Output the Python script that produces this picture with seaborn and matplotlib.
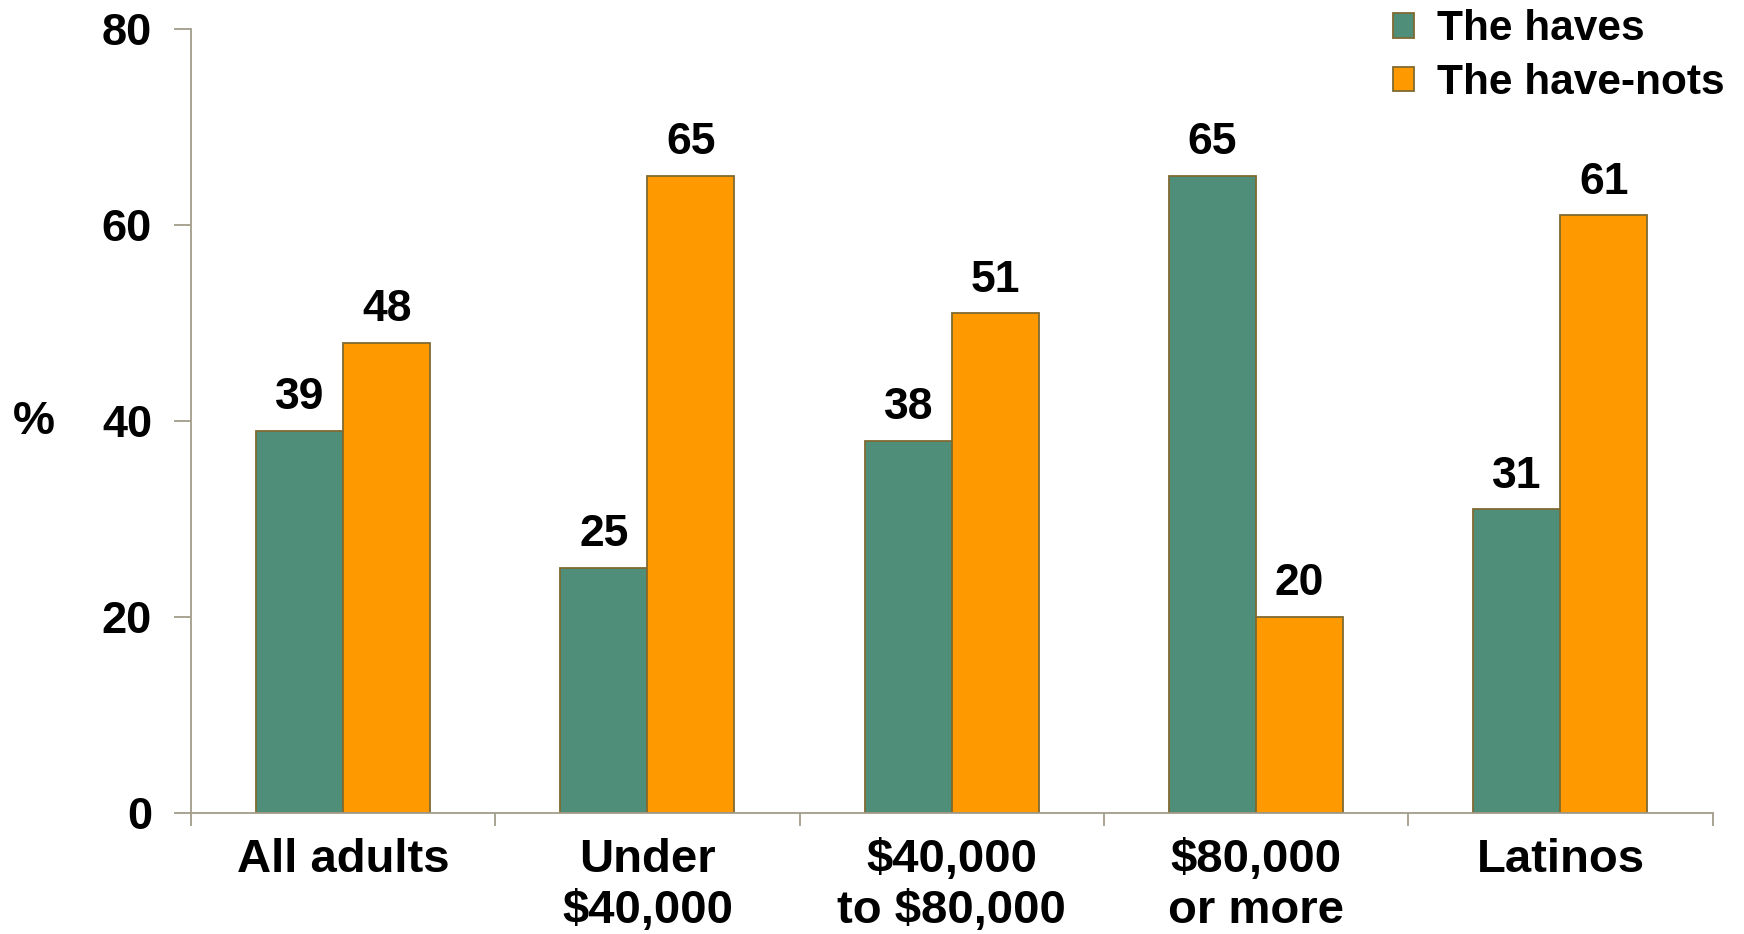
import numpy as np
import pandas as pd
import seaborn as sns
import matplotlib.pyplot as plt

groups = ["All adults", "Under\n$40,000", "$40,000\nto $80,000", "$80,000\nor more", "Latinos"]
haves = [39, 25, 38, 65, 31]
have_nots = [48, 65, 51, 20, 61]
series = ["The haves", "The have-nots"]
colors = ["#4F8F7A", "#FF9900"]

df = pd.DataFrame({
    "group": groups * 2,
    "series": [series[0]] * len(groups) + [series[1]] * len(groups),
    "pct": haves + have_nots,
})

sns.set_style("white")
plt.rcParams["font.family"] = ["Liberation Sans", "DejaVu Sans"]
plt.rcParams["font.weight"] = "bold"
plt.rcParams["text.parse_math"] = False
plt.rcParams["text.color"] = "black"
plt.rcParams["xtick.color"] = "black"
plt.rcParams["ytick.color"] = "black"
plt.rcParams["axes.labelcolor"] = "black"
axis_col = "#A39C8A"

fig = plt.figure(figsize=(17.44, 9.34), dpi=100)
ax = fig.add_axes([0.1095, 0.1296, 0.8725, 0.8394])
sns.barplot(data=df, x="group", y="pct", hue="series", palette=colors,
            width=0.572, gap=0, edgecolor="#7F6A30", linewidth=1.3,
            saturation=1, ax=ax, legend=True)

for cont in ax.containers:
    ax.bar_label(cont, fmt="%d", padding=9, fontsize=32, fontweight="bold", color="black")

ax.set_xlim(-0.5, len(groups) - 0.5)
ax.set_ylim(0, 80)
ax.set_yticks([0, 20, 40, 60, 80])
ax.set_xlabel("")
ax.set_ylabel("%", rotation=0, fontsize=34, fontweight="bold", color="black")
ax.yaxis.set_label_coords(-0.103, 0.47)

ax.tick_params(axis="y", left=True, length=12, width=1.3, color=axis_col, pad=16,
               labelsize=32.5, labelcolor="black", direction="out")
ax.tick_params(axis="x", which="major", length=0, pad=18, labelsize=34, labelcolor="black")
ax.set_xticks(np.arange(-0.5, len(groups)), minor=True)
ax.tick_params(axis="x", which="minor", bottom=True, length=9, width=1.3, color=axis_col, direction="out")
for lab in ax.get_xticklabels() + ax.get_yticklabels():
    lab.set_fontweight("bold")

sns.despine(ax=ax)
for s in ["left", "bottom"]:
    ax.spines[s].set_color(axis_col)
    ax.spines[s].set_linewidth(1.3)

leg = ax.legend(loc="upper left", bbox_to_anchor=(0.789, 1.008), bbox_transform=fig.transFigure,
                frameon=False, fontsize=30.5, handlelength=0.5, handleheight=0.5,
                handletextpad=0.55, labelspacing=0.33, borderaxespad=0)
for t in leg.get_texts():
    t.set_fontweight("bold")
    t.set_color("black")

fig.savefig("out.png", dpi=100)
